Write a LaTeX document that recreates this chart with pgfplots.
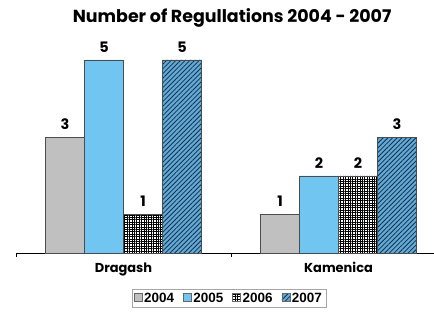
\documentclass[border=0pt]{standalone}
\usepackage{pgfplots}
\pgfplotsset{compat=1.18}
\usepackage{fontspec}
\setmainfont{Liberation Sans}
\newfontfamily\geo{Poppins}
\usetikzlibrary{patterns.meta}
\definecolor{cgray}{RGB}{192,192,192}
\definecolor{cblue}{RGB}{112,198,240}
\definecolor{chatch}{RGB}{95,170,215}
\definecolor{cline}{RGB}{25,45,70}
\begin{document}
\begin{tikzpicture}
\begin{axis}[
  x=215bp, y=38.6bp,
  scale only axis,
  xmin=-0.5, xmax=1.444,
  ymin=0, ymax=5.6,
  clip=false,
  ybar=0pt, bar width=39bp,
  axis x line*=bottom, axis y line=none,
  axis line style={-, black, line width=0.8pt},
  xtick={0,1}, xticklabels={Dragash,Kamenica},
  major tick length=0pt,
  minor xtick={-0.5,0.5,1.5},
  minor tick length=4bp,
  tick align=outside,
  minor tick style={black, line width=0.9pt},
  xticklabel style={font=\geo\bfseries\fontsize{13}{14}\selectfont, yshift=-6bp},
  nodes near coords={\pgfmathprintnumber[assume math mode=true]{\pgfplotspointmeta}},
  every node near coord/.append style={font=\geo\bfseries\fontsize{14.5}{15}\selectfont, yshift=4bp},
  legend columns=4,
  legend style={at={(axis cs:0.49,-0.93)}, anchor=north, draw=gray!70, line width=0.5pt,
    font=\bfseries\fontsize{13.5}{14}\selectfont, inner xsep=2pt, inner ysep=1.5pt,
    /tikz/every even column/.append style={column sep=7bp}},
  legend image code/.code={\draw[#1, draw=gray!80!black, line width=0.4pt] (0cm,-0.12cm) rectangle (0.28cm,0.16cm);},
]
\addplot[fill=cgray, draw=gray!60!black, line width=0.5pt] coordinates {(0,3) (1,1)};
\addplot[fill=cblue, draw=gray!60!black, line width=0.5pt] coordinates {(0,5) (1,2)};
\addplot[fill=white, draw=gray!60!black, line width=0.5pt,
  postaction={pattern={Hatch[distance=2.4bp, line width=0.95bp]}, pattern color=black}] coordinates {(0,1) (1,2)};
\addplot[fill=chatch, draw=gray!60!black, line width=0.5pt,
  postaction={pattern={Lines[angle=45, distance=3.3bp, line width=0.8bp]}, pattern color=cline}] coordinates {(0,5) (1,3)};
\legend{2004,2005,2006,2007}
\node[font=\geo\bfseries\fontsize{17.5}{18}\selectfont, anchor=center] at (axis cs:0.505,6.1) {Number of Regullations 2004 - 2007};
\coordinate (bl) at (axis cs:-0.5744,-1.5026);
\coordinate (tr) at (axis cs:1.444,6.554);
\end{axis}
\pgfresetboundingbox
\path[use as bounding box] (bl) rectangle (tr);
\end{tikzpicture}
\end{document}
